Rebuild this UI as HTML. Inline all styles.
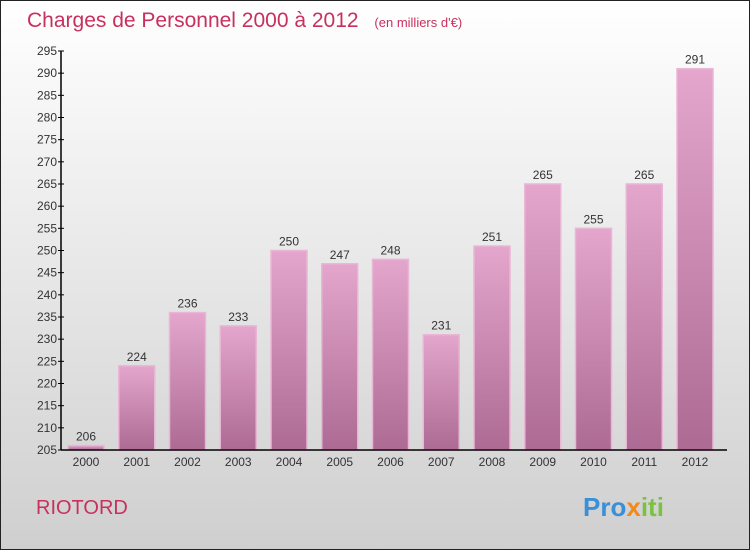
<!DOCTYPE html>
<html><head><meta charset="utf-8"><style>
body{margin:0}
#c{width:750px;height:550px;position:relative;overflow:hidden;font-family:"Liberation Sans",sans-serif}
</style></head><body>
<div id="c">
<svg id="s" width="750" height="550" xmlns="http://www.w3.org/2000/svg">
<defs>
<linearGradient id="bg" x1="0" y1="0" x2="0" y2="1"><stop offset="0" stop-color="#ffffff"/><stop offset="1" stop-color="#cfcfcf"/></linearGradient>
<linearGradient id="bar" x1="0" y1="0" x2="0" y2="1"><stop offset="0" stop-color="#e4a6cc"/><stop offset="1" stop-color="#ad6b94"/></linearGradient>
</defs>
<rect x="0.5" y="0.5" width="749" height="549" fill="url(#bg)" stroke="#222"/>
<text x="27" y="27" font-size="21" fill="#c8305f">Charges de Personnel 2000 à 2012 <tspan font-size="13" dx="10">(en milliers d'€)</tspan></text>
<text x="36" y="514" font-size="20" fill="#c8305f">RIOTORD</text>
<text x="583" y="516" font-size="26" font-weight="bold"><tspan fill="#3a8fd6">Pro</tspan><tspan fill="#f08a1c">x</tspan><tspan fill="#7cc242">iti</tspan></text>
<g id="g"></g>
</svg>
</div>
<script>
const categories=["2000","2001","2002","2003","2004","2005","2006","2007","2008","2009","2010","2011","2012"];
const values=[206,224,236,233,250,247,248,231,251,265,255,265,291];
const yTicks=[205,210,215,220,225,230,235,240,245,250,255,260,265,270,275,280,285,290,295];
const NS="http://www.w3.org/2000/svg";
const g=document.getElementById('g');
const y=v=>450-(v-205)*(450-51)/90;
const x=i=>86+i*50.75;
function mk(t,a){const e=document.createElementNS(NS,t);for(const k in a)e.setAttribute(k,a[k]);g.appendChild(e);return e;}
values.forEach((v,i)=>{
  const r=mk('rect',{x:x(i)-18,y:y(v),width:36,height:450-y(v),fill:'url(#bar)',stroke:'#eab6d6','stroke-width':1.5});
  
  
  const t=mk('text',{x:x(i),y:y(v)-5,'font-size':12,fill:'#333','text-anchor':'middle'});t.textContent=v;
  
  
  const c=mk('text',{x:x(i),y:466,'font-size':12,fill:'#333','text-anchor':'middle'});c.textContent=categories[i];
  
  
});
yTicks.forEach(v=>{
  mk('line',{x1:58,x2:64,y1:y(v),y2:y(v),stroke:'#000'});
  const t=mk('text',{x:57,y:y(v)+4,'font-size':12,fill:'#333','text-anchor':'end'});t.textContent=v;
  
  
});
const ya=mk('line',{x1:61,x2:61,y1:y(295),y2:450,stroke:'#000','stroke-width':1.5});


const xa=mk('line',{x1:61,x2:727,y1:450,y2:450,stroke:'#000','stroke-width':1.5});


</script>
</body></html>
